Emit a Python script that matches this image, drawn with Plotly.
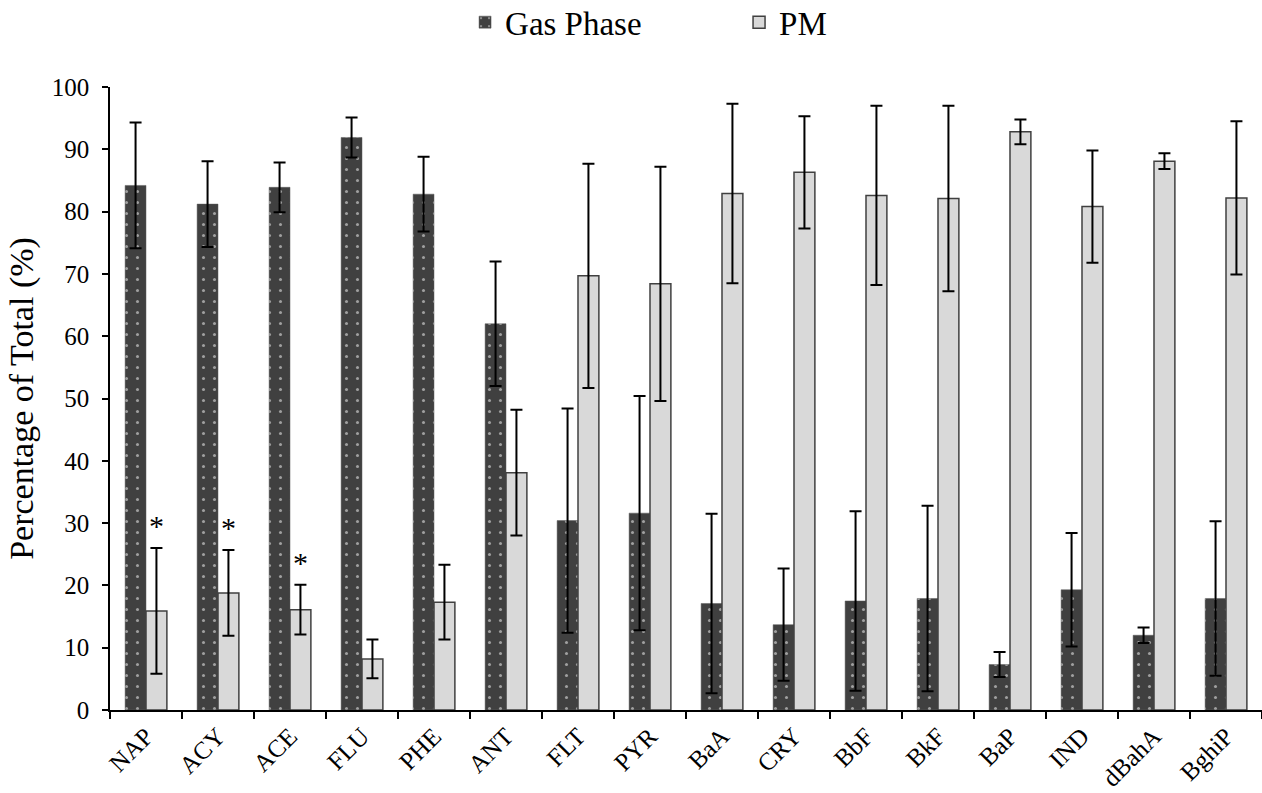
import plotly.graph_objects as go

categories = ["NAP", "ACY", "ACE", "FLU", "PHE", "ANT", "FLT", "PYR",
              "BaA", "CRY", "BbF", "BkF", "BaP", "IND", "dBahA", "BghiP"]
gas = [84.2, 81.2, 83.9, 91.9, 82.8, 62.0, 30.4, 31.6,
       17.1, 13.7, 17.5, 17.9, 7.3, 19.3, 12.0, 17.9]
gas_err = [10.1, 6.9, 4.0, 3.2, 6.0, 10.0, 18.0, 18.8,
           14.4, 9.0, 14.4, 14.9, 2.0, 9.1, 1.25, 12.4]
pm = [15.9, 18.8, 16.1, 8.2, 17.3, 38.1, 69.7, 68.4,
      82.9, 86.3, 82.6, 82.1, 92.8, 80.8, 88.1, 82.2]
pm_err = [10.1, 6.9, 4.0, 3.1, 6.0, 10.1, 18.0, 18.8,
          14.4, 9.0, 14.4, 14.9, 2.0, 9.0, 1.25, 12.3]
star_labels = ["*", "*", "*", "", "", "", "", "", "", "", "", "", "", "", "", ""]

FONT = "Liberation Serif, Times New Roman, serif"

fig = go.Figure()
fig.add_trace(go.Bar(
    name="Gas Phase", x=categories, y=gas,
    error_y=dict(type="data", array=gas_err, visible=True, color="black", thickness=2, width=6),
    marker=dict(color="#404040", line=dict(width=0.5, color="#5a5a5a"),
                pattern=dict(shape=".", fgcolor="white", bgcolor="#404040",
                             size=11, solidity=0.06, fillmode="overlay")),
))
fig.add_trace(go.Bar(
    name="PM", x=categories, y=pm,
    error_y=dict(type="data", array=pm_err, visible=True, color="black", thickness=2, width=6),
    marker=dict(color="#d9d9d9", line=dict(width=1.5, color="#404040")),
))

for i, lab in enumerate(star_labels):
    if lab:
        fig.add_annotation(x=i + 0.145, y=pm[i] + pm_err[i] + 0.6, xref="x", yref="y",
                           text=lab, showarrow=False, yanchor="bottom",
                           font=dict(family=FONT, size=30, color="black"))

fig.update_layout(
    width=1262, height=793,
    margin=dict(l=110, r=0, t=87, b=83, autoexpand=False),
    plot_bgcolor="white", paper_bgcolor="white",
    barmode="group", bargap=0.42, bargroupgap=0,
    font=dict(family=FONT, color="black"),
    legend=dict(orientation="h", xref="container", yref="container",
                x=0.3685, xanchor="left", y=0.972, yanchor="middle",
                font=dict(family=FONT, size=33), itemwidth=30,
                entrywidth=229, entrywidthmode="pixels"),
    showlegend=True,
)
fig.update_xaxes(
    type="category", showline=True, linecolor="black", linewidth=1.5,
    ticks="outside", tickson="boundaries", ticklen=7, tickcolor="black", tickwidth=1.5,
    tickangle=-45, tickfont=dict(family=FONT, size=25), showgrid=False, automargin=False,
)
fig.update_yaxes(
    range=[0, 100], dtick=10, showline=True, linecolor="black", linewidth=1.5,
    ticks="outside", ticklen=6, tickcolor="black", tickwidth=1.5,
    tickfont=dict(family=FONT, size=25), showgrid=False, zeroline=False,
    ticklabelstandoff=8, automargin=False,
    title=dict(text="Percentage of Total (%)", font=dict(family=FONT, size=34), standoff=8),
)

fig.write_html("out.html")
